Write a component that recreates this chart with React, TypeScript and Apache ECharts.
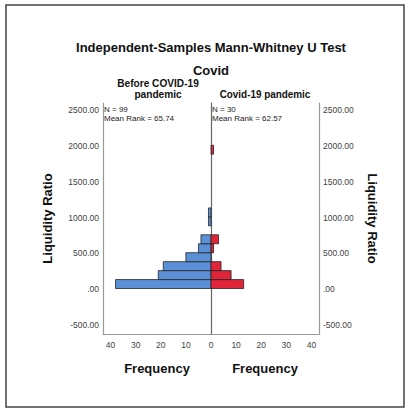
import React, { useEffect, useRef } from 'react';
import * as echarts from 'echarts';

// Histogram bins (Liquidity Ratio) and frequencies per group
const binLow = [10, 135, 260, 385, 510, 635, 885, 1010, 1885];
const binHigh = [135, 260, 385, 510, 635, 760, 1010, 1135, 2010];
const beforeFreq = [38, 21, 19, 10, 5, 4, 1, 1, 0];
const covidFreq = [13, 8, 4, 0, 1, 3, 0, 0, 1];
const groupN = [99, 30];
const meanRanks = ['65.74', '62.57'];
const mainTitle = 'Independent-Samples Mann-Whitney U Test';
const factorTitle = 'Covid';
const yName = 'Liquidity Ratio';
const xName = 'Frequency';

const SANS = "'Liberation Sans', Arial, sans-serif";

const toData = (freq: number[]) =>
  freq
    .map((f, i) => [binLow[i], binHigh[i], f])
    .filter((d) => d[2] > 0);

const makeRender = (color: string) => (_params: any, api: any) => {
  const lo = api.value(0);
  const hi = api.value(1);
  const f = api.value(2);
  const p1 = api.coord([0, lo]);
  const p2 = api.coord([f, hi]);
  return {
    type: 'rect',
    shape: {
      x: Math.min(p1[0], p2[0]),
      y: Math.min(p1[1], p2[1]),
      width: Math.abs(p2[0] - p1[0]),
      height: Math.abs(p2[1] - p1[1]),
    },
    style: { fill: color, stroke: '#262626', lineWidth: 0.8 },
  };
};

const yFmt = (v: number) => (v % 500 === 0 ? (v === 0 ? '.00' : v.toFixed(2)) : '');

export default function App() {
  const ref = useRef<HTMLDivElement>(null);
  useEffect(() => {
    if (!ref.current) return;
    const chart = echarts.init(ref.current, undefined, { renderer: 'svg' });
    const yBase = {
      type: 'value' as const,
      min: -625,
      max: 2600,
      splitNumber: 6,
      splitLine: { show: false },
      axisTick: { show: false },
    };
    const yLabel = { color: '#444', fontSize: 8.5, fontFamily: SANS, margin: 4, formatter: yFmt, showMinLabel: false, showMaxLabel: false };
    const nameStyle = { color: '#111', fontSize: 13, fontWeight: 'bold' as const, fontFamily: SANS };
    const xBase = {
      type: 'value' as const,
      min: 0,
      max: 43,
      interval: 10,
      splitLine: { show: false },
      axisTick: { show: false },
      axisLine: { show: true, onZero: false, lineStyle: { color: '#999', width: 1.2 } },
      name: xName,
      nameLocation: 'middle' as const,
      nameGap: 28,
      nameTextStyle: nameStyle,
    };
    const groupLabel = (text: string, x: number, y: number, sx: number) => ({
      type: 'text',
      x,
      y,
      scaleX: sx,
      style: { text, fill: '#111', font: `bold 11.5px ${SANS}`, textAlign: 'center', textVerticalAlign: 'middle' },
    });
    chart.setOption({
      animation: false,
      backgroundColor: '#fff',
      grid: [
        { left: 103, top: 103, width: 108, height: 231 },
        { left: 211, top: 103, width: 108, height: 231 },
      ],
      xAxis: [
        {
          ...xBase,
          gridIndex: 0,
          inverse: true,
          axisLabel: { color: '#444', fontSize: 8.5, fontFamily: SANS, margin: 6, formatter: (v: number) => (v % 10 === 0 ? String(v) : '') },
        },
        {
          ...xBase,
          gridIndex: 1,
          axisLabel: { color: '#444', fontSize: 8.5, fontFamily: SANS, margin: 6, formatter: (v: number) => (v % 10 === 0 && v !== 0 ? String(v) : '') },
        },
      ],
      yAxis: [
        {
          ...yBase,
          gridIndex: 0,
          position: 'left',
          axisLine: { show: true, onZero: false, lineStyle: { color: '#999', width: 1.2 } },
          axisLabel: yLabel,
          name: yName,
          nameLocation: 'middle',
          nameRotate: 90,
          nameGap: 49,
          nameTextStyle: nameStyle,
        },
        {
          ...yBase,
          gridIndex: 1,
          position: 'right',
          axisLine: { show: true, onZero: false, lineStyle: { color: '#999', width: 1.2 } },
          axisLabel: yLabel,
          name: yName,
          nameLocation: 'middle',
          nameRotate: -90,
          nameGap: 47,
          nameTextStyle: nameStyle,
        },
        {
          ...yBase,
          gridIndex: 1,
          position: 'left',
          axisLine: { show: true, onZero: false, lineStyle: { color: '#666', width: 1.2 } },
          axisLabel: { show: false },
        },
      ],
      series: [
        {
          type: 'custom',
          xAxisIndex: 0,
          yAxisIndex: 0,
          renderItem: makeRender('#5b8fd6'),
          encode: { x: 2, y: [0, 1] },
          data: toData(beforeFreq),
        },
        {
          type: 'custom',
          xAxisIndex: 1,
          yAxisIndex: 1,
          renderItem: makeRender('#e0243a'),
          encode: { x: 2, y: [0, 1] },
          data: toData(covidFreq),
        },
      ],
      graphic: [
        {
          type: 'rect',
          shape: { x: 6, y: 5, width: 398, height: 402 },
          style: { fill: 'none', stroke: '#444', lineWidth: 1.5 },
          silent: true,
        },
        {
          type: 'text',
          x: 211,
          y: 47,
          style: { text: mainTitle, fill: '#111', font: `bold 13px ${SANS}`, textAlign: 'center', textVerticalAlign: 'middle' },
        },
        {
          type: 'text',
          x: 211,
          y: 70,
          style: { text: factorTitle, fill: '#111', font: `bold 13px ${SANS}`, textAlign: 'center', textVerticalAlign: 'middle' },
        },
        groupLabel('Before COVID-19', 158, 83, 0.88),
        groupLabel('pandemic', 158, 93.5, 0.88),
        groupLabel('Covid-19 pandemic', 265, 93.5, 0.86),
        {
          type: 'text',
          x: 104,
          y: 114,
          style: { text: `N = ${groupN[0]}\nMean Rank = ${meanRanks[0]}`, fill: '#222', font: `8px ${SANS}`, textAlign: 'left', textVerticalAlign: 'middle', lineHeight: 9.5 },
        },
        {
          type: 'text',
          x: 212,
          y: 114,
          style: { text: `N = ${groupN[1]}\nMean Rank = ${meanRanks[1]}`, fill: '#222', font: `8px ${SANS}`, textAlign: 'left', textVerticalAlign: 'middle', lineHeight: 9.5 },
        },
      ],
    });
    return () => chart.dispose();
  }, []);
  return <div ref={ref} style={{ position: 'absolute', left: 0, top: 0, width: 408, height: 409, background: '#fff' }} />;
}
